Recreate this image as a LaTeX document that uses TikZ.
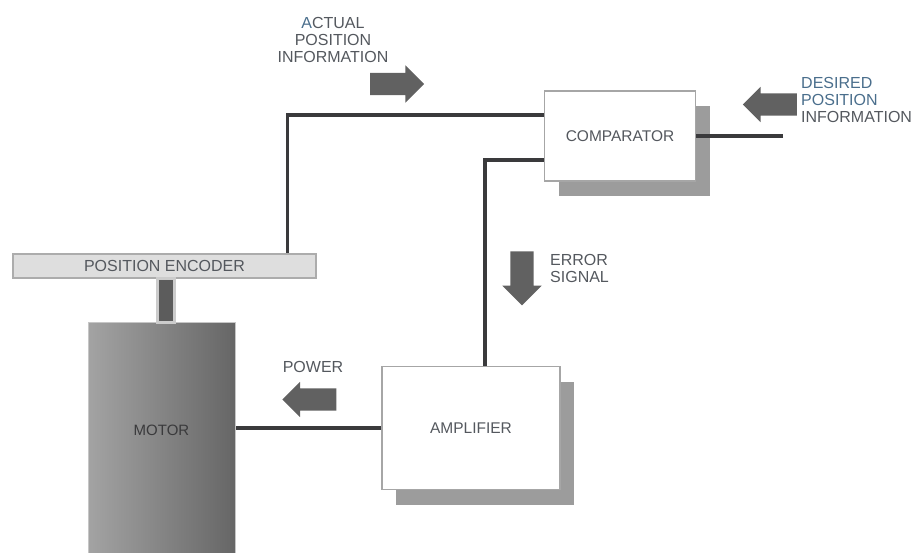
\documentclass[tikz,border=0pt]{standalone}
\usepackage{fontspec}
\setmainfont{Liberation Sans}
\definecolor{fbink}{HTML}{3A3A3C}
\definecolor{fbtext}{HTML}{54585E}
\definecolor{fbblue}{HTML}{4A6E8C}
\definecolor{fbshadow}{HTML}{9C9C9C}
\usepackage{tikz}
\usetikzlibrary{shapes.arrows, arrows.meta, positioning, shadows}

\begin{document}
\begin{tikzpicture}[
  x=1pt, y=-1pt,
  block/.style={rectangle, draw=gray!70, fill=white, line width=1.2pt,
                inner sep=0pt, text=fbtext,
                font=\fontsize{15.5}{17}\selectfont,
                drop shadow={shadow xshift=14pt, shadow yshift=-15pt,
                             fill=fbshadow, opacity=1}},
  wire/.style={line width=3.5pt, draw=fbink},
  sigarrow/.style={single arrow, fill=black!62, draw=none,
                   inner xsep=0pt, inner ysep=11pt, minimum height=54pt,
                   single arrow head extend=7.5pt},
  lbl/.style={font=\fontsize{16}{17}\selectfont, text=fbtext,
              align=left, inner sep=0pt}
]
  \useasboundingbox (0,0) rectangle (918,552);

  % blocks
  \node[block, minimum width=151pt, minimum height=90pt]
    at (620,136) (comparator) {COMPARATOR};
  \node[block, minimum width=178pt, minimum height=123pt]
    at (471,428) (amplifier) {AMPLIFIER};
  \node[rectangle, draw=gray!65, fill=black!13, line width=1.2pt,
        minimum width=303pt, minimum height=24pt, inner sep=0pt,
        text=fbtext, font=\fontsize{16}{17}\selectfont]
    at (164.5,266) (encoder) {POSITION ENCODER};
  \node[rectangle, draw=gray!45, left color=black!36, right color=black!60,
        line width=1pt, minimum width=147pt, minimum height=232pt,
        label={[font=\fontsize{15}{17}\selectfont, text=fbink,
                yshift=8pt]center:MOTOR}]
    at (161.5,438) (motor) {};
  \node[rectangle, draw=gray!40, fill=gray!72!black, line width=3pt,
        minimum width=17pt, minimum height=44pt, inner sep=0pt]
    at (166,300) (shaft) {};

  % connectors
  \coordinate (desired) at (783,136);
  \draw[wire] ([yshift=21pt]comparator.west) -| ([xshift=-29pt]encoder.north east);
  \draw[wire] ([yshift=-24pt]comparator.west) -| ([xshift=14pt]amplifier.north);
  \draw[wire] (desired) -- (comparator.east);
  \draw[wire] (amplifier.west) -- (motor.east |- amplifier.west);

  % signal arrows
  \node[sigarrow] at (391.5,84) (actarrow) {};
  \node[sigarrow, shape border rotate=180, single arrow head extend=6.5pt]
    at (775.5,104.5) (desarrow) {};
  \node[sigarrow, rotate=-90, inner ysep=11.5pt,
        single arrow head extend=8pt]
    at (522,272.5) (errarrow) {};
  \node[sigarrow, shape border rotate=180, single arrow head extend=6.5pt]
    at (315,399.5) (powarrow) {};

  % labels
  \node[lbl, align=center] at (333,40) (actlabel)
    {{\color{fbblue}A}CTUAL\\POSITION\\INFORMATION};
  \node[lbl, text=fbblue, anchor=west] at (801,100) (deslabel)
    {DESIRED\\POSITION\\{\color{fbtext}INFORMATION}};
  \node[lbl, anchor=west] at (550,268) (errlabel) {ERROR\\SIGNAL};
  \node[lbl] at (313,367) (powlabel) {POWER};
\end{tikzpicture}
\end{document}
